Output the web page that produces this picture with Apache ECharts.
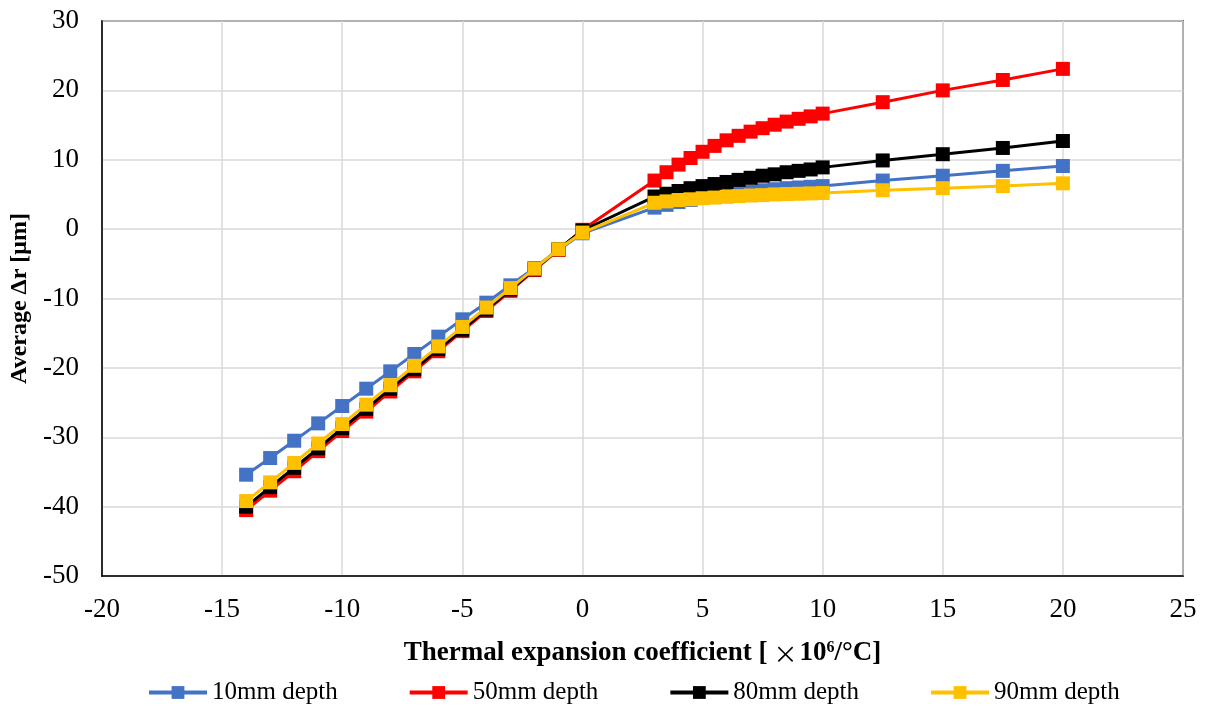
<!DOCTYPE html>
<html>
<head>
<meta charset="utf-8">
<script src="https://cdn.jsdelivr.net/npm/echarts@6/dist/echarts.min.js"></script>
<style>
html,body{margin:0;padding:0;background:#fff;}
#chart{width:1211px;height:709px;}
</style>
</head>
<body>
<div id="chart"></div>
<script>
const xValues = [-14,-13,-12,-11,-10,-9,-8,-7,-6,-5,-4,-3,-2,-1,0,
  3,3.5,4,4.5,5,5.5,6,6.5,7,7.5,8,8.5,9,9.5,10,12.5,15,17.5,20];
const seriesNames = ['10mm depth','50mm depth','80mm depth','90mm depth'];
const seriesColors = ['#4472C4','#FF0000','#000000','#FFC000'];
const depth10 = [-35.4,-33.0,-30.5,-28.0,-25.5,-23.0,-20.5,-18.0,-15.5,-13.0,-10.6,-8.1,-5.6,-3.0,-0.6,
  3.1,3.5,3.9,4.2,4.5,4.75,5.0,5.2,5.4,5.6,5.75,5.9,6.0,6.1,6.2,7.0,7.7,8.4,9.1];
const depth50 = [-40.5,-37.7,-34.9,-32.0,-29.1,-26.3,-23.4,-20.5,-17.6,-14.7,-11.8,-8.9,-5.9,-3.0,-0.1,
  7.0,8.2,9.3,10.25,11.15,12.0,12.8,13.45,14.05,14.55,15.05,15.5,15.9,16.25,16.65,18.3,20.0,21.5,23.1];
const depth80 = [-40.0,-37.2,-34.4,-31.6,-28.7,-25.9,-23.0,-20.2,-17.3,-14.5,-11.6,-8.7,-5.8,-2.9,-0.2,
  4.7,5.1,5.5,5.9,6.2,6.5,6.8,7.1,7.4,7.7,7.9,8.2,8.4,8.6,8.9,9.9,10.8,11.7,12.7];
const depth90 = [-39.2,-36.5,-33.7,-30.9,-28.1,-25.3,-22.5,-19.7,-16.9,-14.1,-11.3,-8.5,-5.7,-2.9,-0.5,
  3.8,4.0,4.2,4.3,4.45,4.55,4.65,4.75,4.85,4.9,5.0,5.05,5.1,5.15,5.2,5.6,5.9,6.2,6.6];
const yTicks = {min:-50, max:30, interval:10};
const xTicks = {min:-20, max:25, interval:5};

const allData = [depth10, depth50, depth80, depth90];
const font = '"Liberation Serif", "Times New Roman", serif';
const cjk = '"Noto Sans CJK JP", sans-serif';

const chart = echarts.init(document.getElementById('chart'), null, {renderer:'canvas'});
chart.setOption({
  animation:false,
  backgroundColor:'#fff',
  grid:{left:102, right:28, top:21, bottom:133, show:true, borderColor:'#000', borderWidth:1.5, backgroundColor:'transparent'},
  xAxis:{
    type:'value', min:xTicks.min, max:xTicks.max, interval:xTicks.interval,
    axisLine:{show:true, onZero:false, lineStyle:{color:'#000', width:1.5}},
    axisTick:{show:false},
    splitLine:{show:true, lineStyle:{color:'#d9d9d9', width:1.5}},
    axisLabel:{color:'#000', fontFamily:font, fontSize:27, margin:20},
    name:'{b|Thermal expansion coefficient [}{x|×}{b|10}{s|6}{b|/°C]}',
    nameLocation:'middle', nameGap:64,
    nameTextStyle:{rich:{
      b:{fontFamily:font, fontSize:27, fontWeight:'bold', color:'#000'},
      x:{fontFamily:cjk, fontSize:24, fontWeight:'normal', color:'#000', padding:[0,2,0,6]},
      s:{fontFamily:font, fontSize:16, fontWeight:'bold', color:'#000', verticalAlign:'top', padding:[0,0,10,0]}
    }}
  },
  yAxis:{
    type:'value', min:yTicks.min, max:yTicks.max, interval:yTicks.interval,
    axisLine:{show:true, onZero:false, lineStyle:{color:'#000', width:1.5}},
    axisTick:{show:false},
    splitLine:{show:true, lineStyle:{color:'#d9d9d9', width:1.5}},
    axisLabel:{color:'#000', fontFamily:font, fontSize:27, margin:23},
    name:'Average Δr [μm]', nameLocation:'middle', nameGap:66, nameRotate:90,
    nameTextStyle:{fontFamily:font, fontSize:24, fontWeight:'bold', color:'#000'}
  },
  legend:{
    top:680, left:147, padding:0, itemGap:70, itemWidth:58, itemHeight:16,
    textStyle:{fontFamily:font, fontSize:25, color:'#000'},
    lineStyle:{width:4},
    data:seriesNames
  },
  series: seriesNames.map((n,i)=>({
    name:n, type:'line',
    data: xValues.map((x,j)=>[x, allData[i][j]]),
    symbol:'rect', symbolSize:14,
    lineStyle:{color:seriesColors[i], width:3},
    itemStyle:{color:seriesColors[i]},
    z: 2+i
  }))
});
</script>
</body>
</html>
